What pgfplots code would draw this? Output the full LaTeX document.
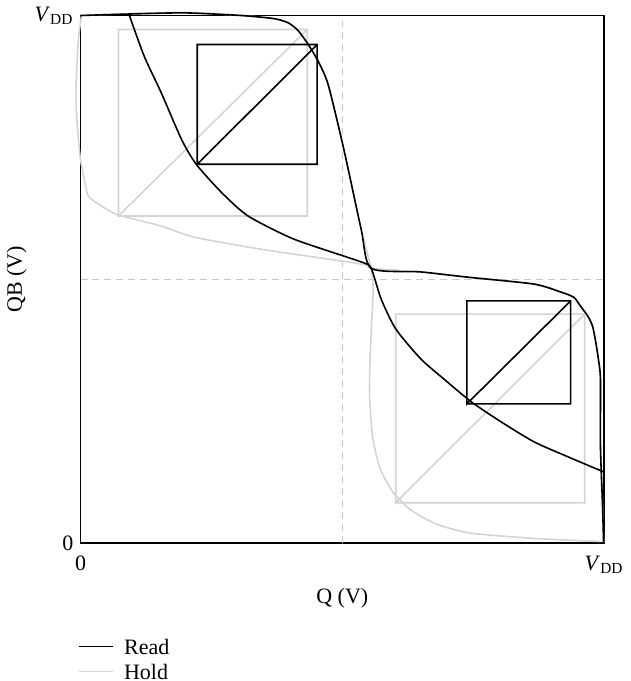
\documentclass[border=0pt]{standalone}
\usepackage{fontspec}
\setmainfont{Liberation Serif}
\usepackage{pgfplots}
\pgfplotsset{compat=1.18}
\definecolor{lgray}{RGB}{212,212,212}
\definecolor{dgray}{RGB}{200,200,200}
\begin{document}
\begin{tikzpicture}
\begin{axis}[
  font=\fontsize{11}{13}\selectfont,
  scale only axis,
  width=262pt, height=264pt,
  xmin=0, xmax=1, ymin=0, ymax=1,
  clip=false,
  xtick={0,1}, ytick={0,1},
  xticklabels={0,\textit{V}\textsubscript{DD}},
  yticklabels={0,\textit{V}\textsubscript{DD}},
  xticklabel style={yshift=-3pt},
  major tick length=0pt,
  xlabel={Q (V)}, ylabel={QB (V)},
  xlabel style={at={(0.5,-0.104)}, anchor=center},
  ylabel style={at={(-0.122,0.5)}, anchor=center},
  axis line style={line width=0.8pt},
  legend style={at={(-0.004,-0.178)}, anchor=north west, draw=none, fill=none,
    inner sep=0pt, outer sep=0pt,
    nodes={inner sep=1pt, text height=7.5pt, text depth=0pt},
    legend cell align=left, row sep=3pt,
    /tikz/every odd column/.append style={column sep=4pt}},
  legend image code/.code={\draw[#1] (0cm,0cm) -- (0.6cm,0cm);},
]
\addlegendimage{black, line width=0.8pt}
\addlegendentry{Read}
\addlegendimage{lgray, line width=0.8pt}
\addlegendentry{Hold}
% dashed guides
\addplot[dgray, dash pattern=on 3.5pt off 2.5pt, line width=0.8pt, forget plot] coordinates {(0.5,0) (0.5,1)};
\addplot[dgray, dash pattern=on 3.5pt off 2.5pt, line width=0.8pt, forget plot] coordinates {(0,0.5) (1,0.5)};
% Hold curves
\addplot[lgray, line width=0.8pt, smooth, tension=0.4, forget plot] coordinates {
 (0.002,1.0) (-0.004,0.955) (-0.008,0.879) (-0.008,0.822) (-0.004,0.765) (0,0.727)
 (0.006,0.695) (0.015,0.658) (0.040,0.639) (0.072,0.622) (0.154,0.601) (0.217,0.580)
 (0.345,0.557) (0.536,0.529) (0.555,0.521) (0.650,0.514) (0.740,0.504) (0.866,0.491)
 (0.917,0.476) (0.942,0.466) (0.955,0.449) (0.969,0.430) (0.978,0.411) (0.984,0.381)
 (0.989,0.349) (0.993,0.311) (0.993,0.184) (0.997,0.071) (0.999,0.001)};
\addplot[lgray, line width=0.8pt, smooth, tension=0.4, forget plot] coordinates {
 (0.002,1.0) (0.1,1.004) (0.2,1.006) (0.307,1.0) (0.370,0.994) (0.397,0.986) (0.416,0.971)
 (0.435,0.945) (0.454,0.913) (0.473,0.869) (0.503,0.746) (0.536,0.595) (0.555,0.521)
 (0.559,0.480) (0.556,0.420) (0.553,0.349) (0.552,0.280) (0.558,0.200) (0.572,0.142)
 (0.597,0.096) (0.632,0.062) (0.680,0.036) (0.745,0.019) (0.866,0.009) (0.993,0.003)};
% Hold squares
\addplot[lgray, line width=0.8pt, forget plot] coordinates {
 (0.0725,0.620) (0.433,0.620) (0.433,0.9735) (0.0725,0.9735) (0.0725,0.620) (0.433,0.9735)};
\addplot[lgray, line width=0.8pt, forget plot] coordinates {
 (0.602,0.0766) (0.963,0.0766) (0.963,0.434) (0.602,0.434) (0.602,0.0766) (0.963,0.434)};
% Read curves
\addplot[black, line width=0.8pt, smooth, tension=0.4, forget plot] coordinates {
 (0,1.0) (0.1,1.003) (0.2,1.005) (0.307,1.0) (0.370,0.994) (0.397,0.986) (0.416,0.971)
 (0.435,0.945) (0.454,0.913) (0.473,0.869) (0.503,0.746) (0.536,0.595) (0.555,0.521)
 (0.650,0.514) (0.740,0.504) (0.866,0.491) (0.917,0.476) (0.942,0.466) (0.955,0.449)
 (0.969,0.430) (0.978,0.411) (0.984,0.381) (0.989,0.349) (0.993,0.311) (0.993,0.184)
 (0.997,0.071) (0.999,0.001)};
\addplot[black, line width=0.8pt, smooth, tension=0.4, forget plot] coordinates {
 (0.0934,1.0) (0.122,0.922) (0.154,0.854) (0.193,0.765) (0.221,0.718) (0.269,0.665)
 (0.320,0.620) (0.408,0.576) (0.536,0.533) (0.555,0.521) (0.574,0.463) (0.602,0.406)
 (0.650,0.349) (0.694,0.311) (0.746,0.268) (0.803,0.230) (0.866,0.192) (0.930,0.164)
 (0.999,0.135)};
% Read squares
\addplot[black, line width=0.8pt, forget plot] coordinates {
 (0.223,0.718) (0.452,0.718) (0.452,0.945) (0.223,0.945) (0.223,0.718) (0.452,0.945)};
\addplot[black, line width=0.8pt, forget plot] coordinates {
 (0.738,0.264) (0.936,0.264) (0.936,0.459) (0.738,0.459) (0.738,0.264) (0.936,0.459)};
\end{axis}
\end{tikzpicture}
\end{document}
